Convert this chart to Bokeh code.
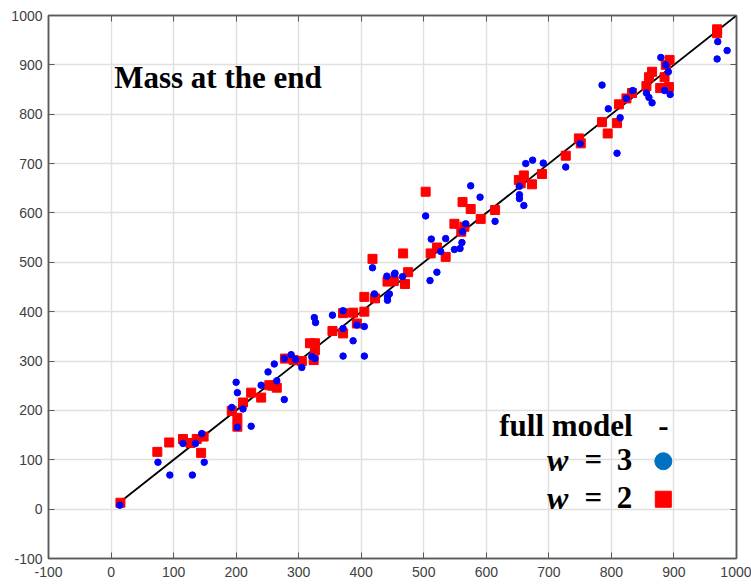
from bokeh.plotting import figure
from bokeh.models import Range1d, FixedTicker, LinearAxis, Label
from bokeh.embed import file_html
from bokeh.resources import INLINE

# Final mass: x = full model, y = reduced model (w = 2 and w = 3)
w2_x = [15, 74, 93, 115, 127, 137, 148, 144,
        193, 202, 202, 211, 224, 240, 253, 258, 265,
        278, 292, 305, 318, 326, 326, 324,
        354, 371, 371, 387, 393, 405, 405, 422,
        418, 442, 452, 470, 475, 467,
        503, 511, 521, 535, 549, 560, 565, 562, 575, 591, 614,
        652, 655, 660, 673, 689, 727, 748, 751,
        785, 794, 809, 812, 824, 833, 856, 860, 865, 878, 885, 892, 887, 893, 969, 969]
w2_y = [13, 116, 135, 142, 134, 142, 147, 114,
        199, 185, 167, 216, 236, 226, 251, 250, 246,
        305, 302, 300, 336, 336, 322, 302,
        361, 397, 356, 398, 376, 400, 430, 427,
        507, 461, 462, 456, 480, 518,
        643, 518, 530, 511, 578, 562, 572, 622, 608, 588, 606,
        667, 660, 676, 658, 679, 716, 751, 741,
        784, 761, 782, 820, 832, 843, 857, 875, 886, 853, 875, 855, 900, 910, 972, 964]

w3_x = [14, 75, 94, 115, 130, 135, 145, 149,
        193, 200, 202, 202, 211, 224, 240, 251, 261, 265,
        277, 277, 288, 295, 305, 325, 327, 321, 326,
        354, 371, 371, 371, 387, 393, 405, 405,
        421, 418, 441, 445, 442, 442, 453, 466, 454,
        510, 521, 512, 527, 535, 549, 558, 561, 562, 567, 503,
        575, 590, 614, 653, 653, 653, 660, 663, 674, 691, 727, 750,
        785, 795, 809, 814, 824, 834, 856, 860, 865,
        879, 887, 891, 885, 894, 970, 969, 985]
w3_y = [8, 95, 69, 133, 69, 133, 153, 95,
        206, 257, 236, 166, 203, 168, 251, 278, 294, 260,
        222, 305, 313, 303, 287, 388, 378, 309, 305,
        393, 402, 366, 310, 341, 373, 370, 310,
        436, 489, 472, 436, 430, 423, 476, 471, 478,
        463, 480, 547, 522, 548, 526, 528, 540, 562, 578, 594,
        655, 632, 583, 654, 637, 629, 615, 700, 707, 701, 693, 740,
        859, 811, 721, 793, 832, 848, 843, 834, 823,
        915, 900, 886, 848, 840, 947, 912, 929]

# y = x reference line
diag_x = [13, 1000]
diag_y = [13, 1000]

tick_values = [-100, 0, 100, 200, 300, 400, 500, 600, 700, 800, 900, 1000]
tick_labels = ["-100", "0", "100", "200", "300", "400", "500", "600", "700", "800", "900", "1000"]

p = figure(width=751, height=585, output_backend="svg", toolbar_location=None,
           x_range=Range1d(-100, 1000), y_range=Range1d(-100, 1000),
           min_border_left=48, min_border_right=15, min_border_top=15, min_border_bottom=27)

p.background_fill_color = "white"
p.border_fill_color = "white"
p.outline_line_color = "#5a5a5a"
p.outline_line_width = 1.5

ticker = FixedTicker(ticks=tick_values)
overrides = {v: s for v, s in zip(tick_values, tick_labels)}

for ax in (p.xaxis[0], p.yaxis[0]):
    ax.ticker = ticker
    ax.major_label_overrides = overrides
    ax.major_label_text_font = "Liberation Sans"
    ax.major_label_text_font_size = "14px"
    ax.major_label_text_color = "#404040"
    ax.axis_line_color = "#5a5a5a"
    ax.axis_line_width = 1.5
    ax.major_tick_in = 6
    ax.major_tick_out = 0
    ax.major_tick_line_color = "#5a5a5a"
    ax.minor_tick_line_color = None
p.xaxis[0].major_label_standoff = 8
p.yaxis[0].major_label_standoff = 6

# tick marks on the top and right edges of the box
for side in ("above", "right"):
    ax = LinearAxis(ticker=ticker, major_label_text_font_size="0px", major_label_standoff=0,
                    axis_line_color="#5a5a5a", axis_line_width=1.5,
                    major_tick_in=6, major_tick_out=0, major_tick_line_color="#5a5a5a",
                    minor_tick_line_color=None)
    ax.major_label_overrides = {v: "" for v in tick_values}
    p.add_layout(ax, side)

p.xgrid.ticker = ticker
p.ygrid.ticker = ticker
p.grid.grid_line_color = "#e0e0e0"
p.grid.grid_line_width = 1.5

p.line(diag_x, diag_y, line_color="black", line_width=1.8)

p.scatter(x=w2_x, y=w2_y, marker="square", size=9, fill_color="#ff0000", line_color="#ff0000")
p.scatter(x=w3_x, y=w3_y, marker="circle", size=6.5, fill_color="#0000ff", line_color="#0000ff")

serif = "Liberation Serif"


def add_text(x, y, text, align, style="bold", size="31px"):
    p.add_layout(Label(x=x, y=y, text=text, text_font=serif, text_font_style=style,
                       text_font_size=size, text_color="black", text_baseline="alphabetic",
                       text_align=align))


add_text(5, 875, "Mass at the end", "left")

# legend block: label text on the left, swatch on the right
legend_swatch_x = 883
row_full, row_w3, row_w2 = 170, 100, 23

add_text(834, row_full, "full model", "right")
add_text(legend_swatch_x, row_full, "-", "center")

for row, num in ((row_w3, "3"), (row_w2, "2")):
    add_text(697, row, "w", "left", style="bold italic", size="32px")
    add_text(771, row, "=", "center")
    add_text(821, row, num, "center")

p.scatter(x=[legend_swatch_x], y=[97], marker="circle", size=17,
          fill_color="#0070c0", line_color="#0070c0")
p.scatter(x=[legend_swatch_x], y=[20], marker="square", size=16,
          fill_color="#ff0000", line_color="#ff0000")

open("out.html", "w").write(file_html(p, INLINE))
